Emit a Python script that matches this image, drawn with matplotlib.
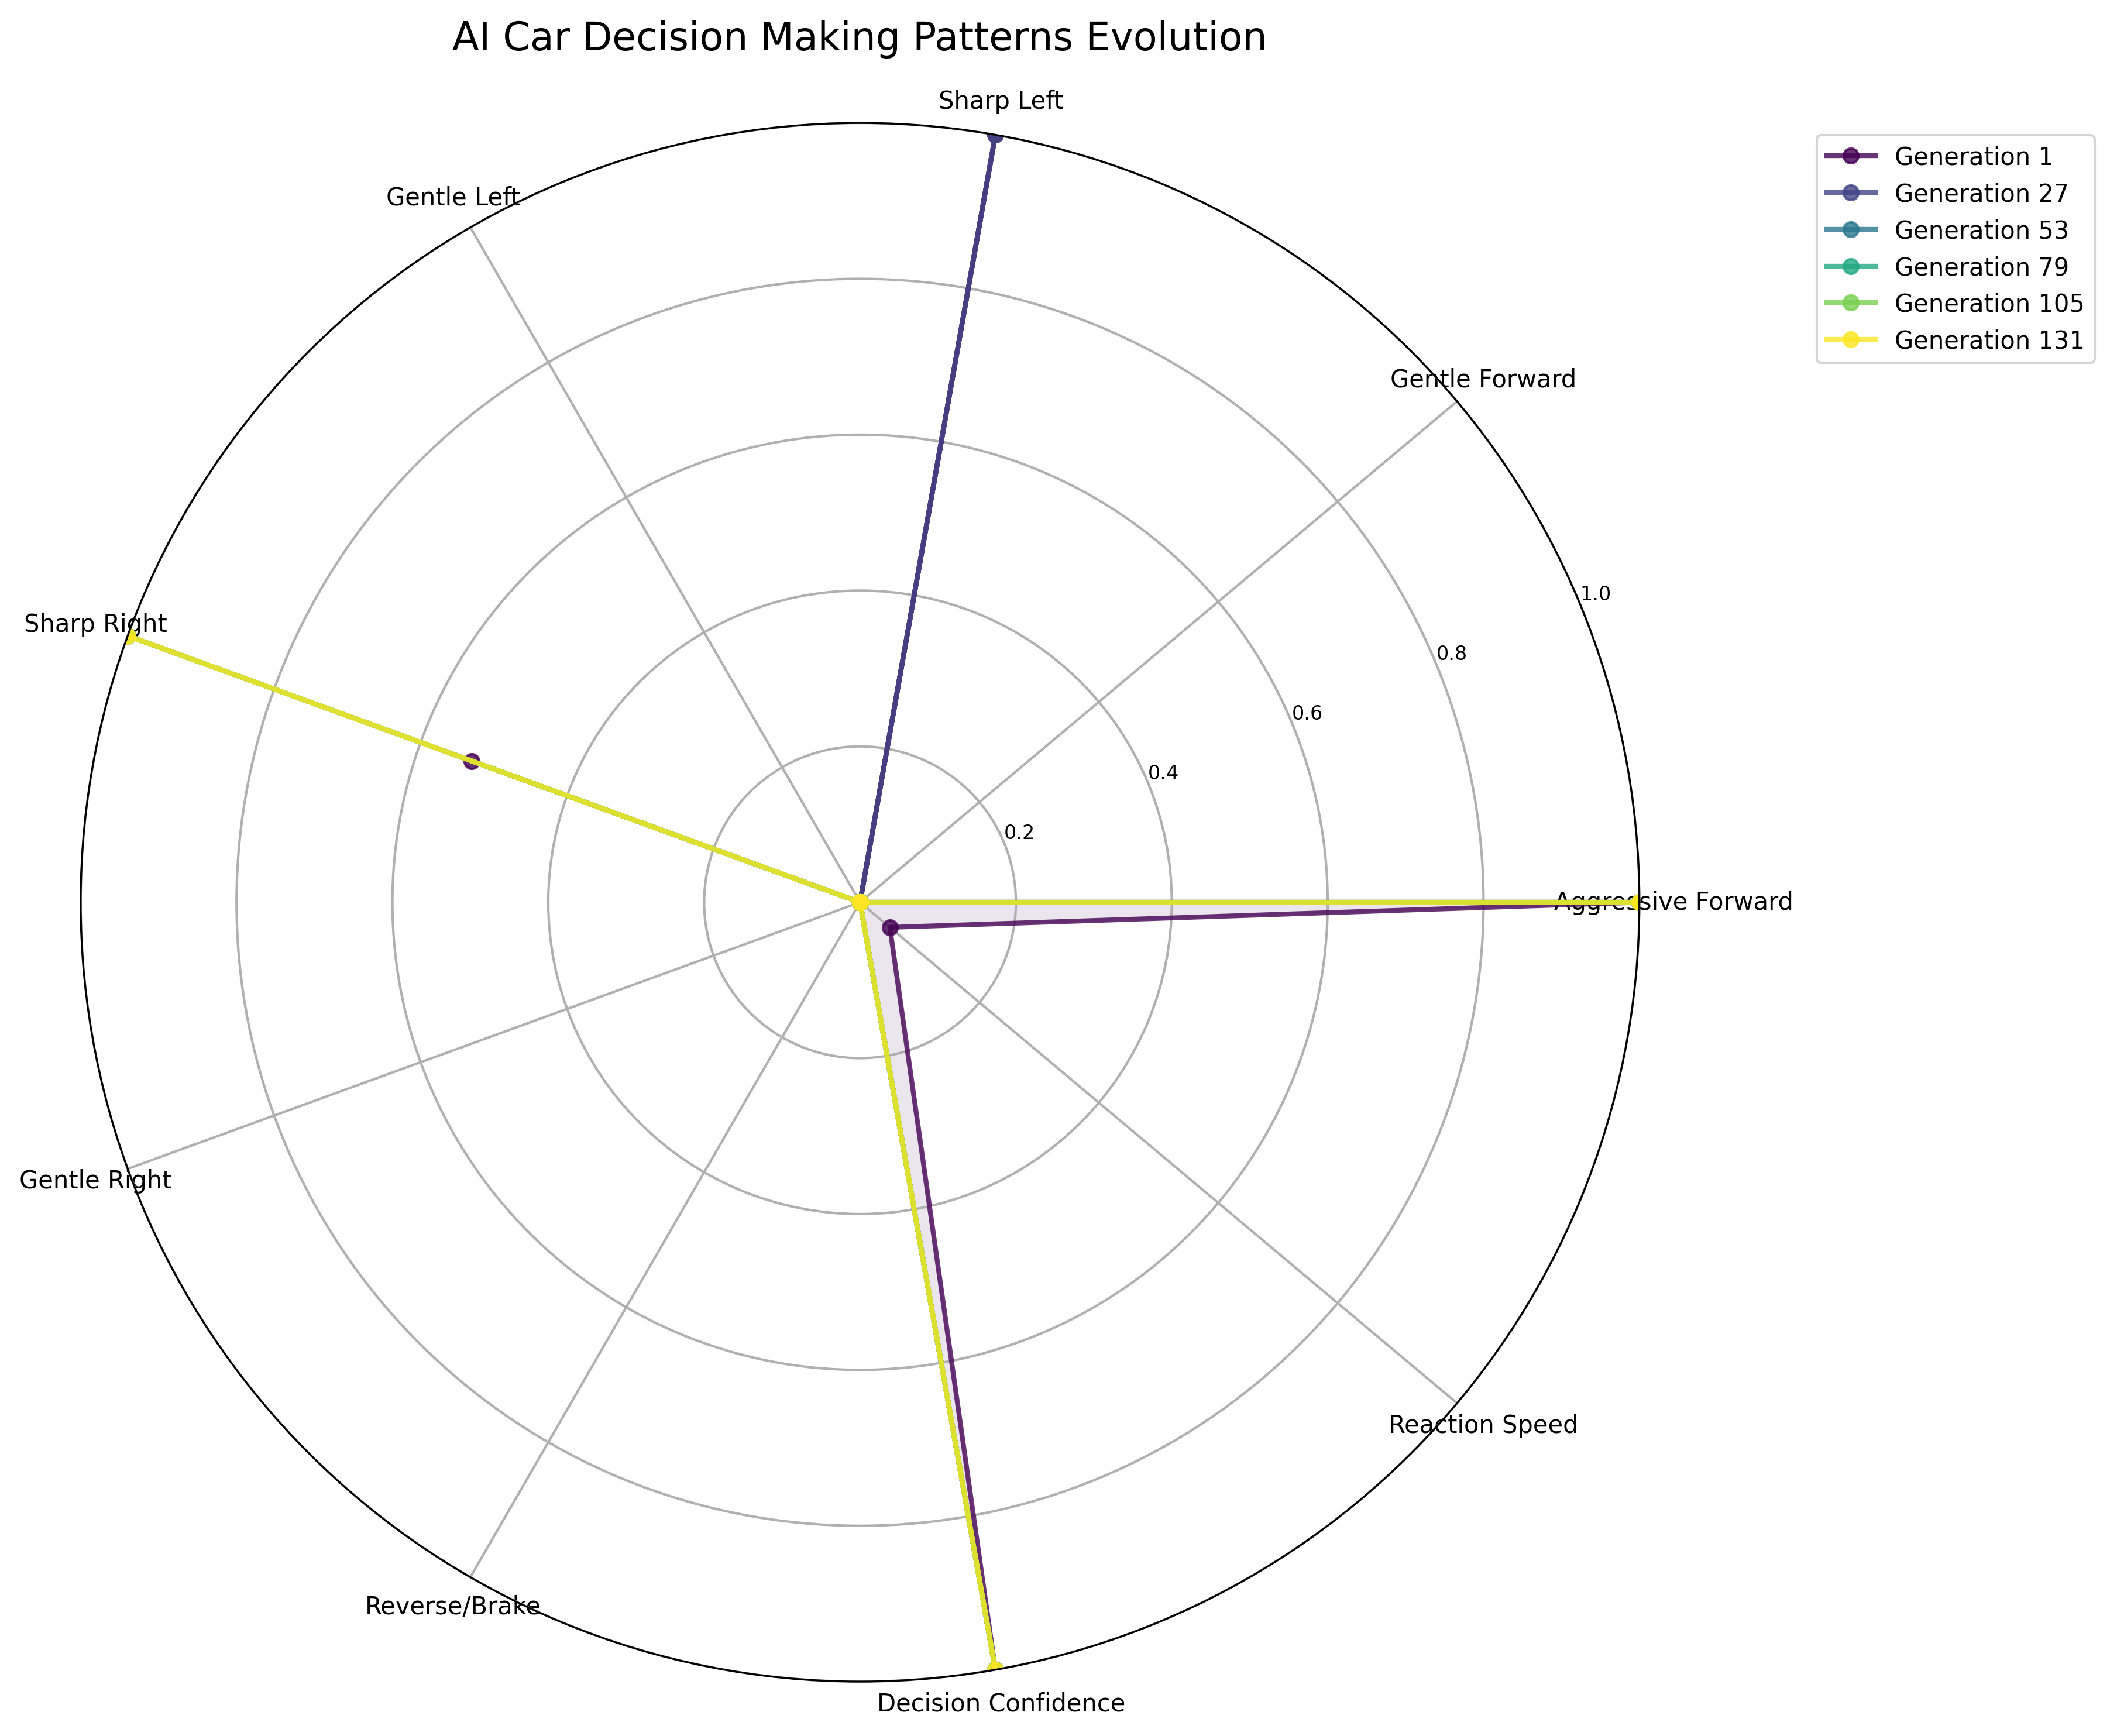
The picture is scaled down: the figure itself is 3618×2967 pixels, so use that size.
import numpy as np
import matplotlib
matplotlib.use('Agg')
import matplotlib.pyplot as plt

# ── data ─────────────────────────────────────────────────────────────────────
categories = ['Aggressive Forward', 'Gentle Forward', 'Sharp Left', 'Gentle Left',
              'Sharp Right', 'Gentle Right', 'Reverse/Brake',
              'Decision Confidence', 'Reaction Speed']

generations = [1, 27, 53, 79, 105, 131]

gen_1   = [1.0, 0.0, 1.0, 0.0, 0.53, 0.0, 0.0, 1.0, 0.05]
gen_27  = [0.0, 0.0, 1.0, 0.0, 0.0, 0.0, 0.0, 1.0, 0.0]
gen_53  = [1.0, 0.0, 0.0, 0.0, 1.0, 0.0, 0.0, 1.0, 0.0]
gen_79  = [1.0, 0.0, 0.0, 0.0, 1.0, 0.0, 0.0, 1.0, 0.0]
gen_105 = [1.0, 0.0, 0.0, 0.0, 1.0, 0.0, 0.0, 1.0, 0.0]
gen_131 = [1.0, 0.0, 0.0, 0.0, 1.0, 0.0, 0.0, 1.0, 0.0]

series = [gen_1, gen_27, gen_53, gen_79, gen_105, gen_131]

# ── figure ───────────────────────────────────────────────────────────────────
n = len(categories)
angles = np.linspace(0, 2 * np.pi, n, endpoint=False).tolist()
angles += angles[:1]

fig = plt.figure(figsize=(12.06, 9.893))
ax = fig.add_axes([0.0381, 0.0313, 0.7363, 0.8976], projection='polar')

colors = plt.cm.viridis(np.linspace(0, 1, len(generations)))

for gen, vals, col in zip(generations, series, colors):
    v = list(vals) + vals[:1]
    ax.plot(angles, v, 'o-', color=col, linewidth=2, alpha=0.8,
            label=f'Generation {gen}')
    ax.fill(angles, v, color=col, alpha=0.1)

ax.set_xticks(angles[:-1])
ax.set_xticklabels(categories, fontsize=10)
ax.set_ylim(0, 1)
ax.set_yticks([0.2, 0.4, 0.6, 0.8, 1.0])
ax.set_yticklabels(['0.2', '0.4', '0.6', '0.8', '1.0'], fontsize=8)
ax.grid(True, color='#b0b0b0', linewidth=1)

ax.set_title('AI Car Decision Making Patterns Evolution', fontsize=16, pad=16)
ax.legend(loc='upper right', bbox_to_anchor=(1.3, 1.0), fontsize=10)

fig.savefig('out.png', dpi=300)
